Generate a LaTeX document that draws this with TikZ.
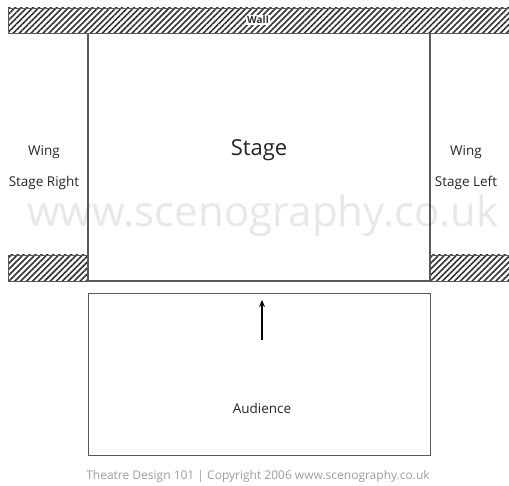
\documentclass[tikz,border=0pt]{standalone}
\usepackage{fontspec}
\setmainfont{Open Sans}
\usetikzlibrary{patterns.meta,arrows.meta}
\definecolor{linec}{gray}{0.35}
\definecolor{hatchc}{gray}{0.2}
\definecolor{wmark}{gray}{0.91}
\definecolor{copyc}{gray}{0.62}
\tikzset{
  hatch/.style={draw=linec, line width=0.8pt, pattern={Lines[angle=45,distance=4.2pt,line width=1.6pt]}, pattern color=hatchc},
  wallline/.style={draw=linec, line width=1.2pt},
  lbl/.style={font=\fontsize{13.5}{15}\selectfont, text=black!85, inner sep=0pt}
}
\begin{document}
\begin{tikzpicture}[x=1pt,y=-1pt]
\useasboundingbox[fill=white] (0,0) rectangle (509,486);
% watermark
\node[text=wmark, font=\fontsize{42}{46}\selectfont, inner sep=0pt] (wm) at (263,216) {www.scenography.co.uk};
% top wall
\path[hatch] (8,8) rectangle (509,33);
\node[fill=white, inner sep=1.5pt, font=\fontsize{10}{11}\selectfont\bfseries, text=black!80] (walllbl) at (258,20) {Wall};
% side wall stubs
\path[hatch] (8,255) rectangle (88,281);
\path[hatch] (430,255) rectangle (509,281);
% stage outline
\coordinate (tl) at (88,33);
\coordinate (tr) at (430,33);
\coordinate (bl) at (88,281);
\coordinate (br) at (430,281);
\draw[wallline] (tl) -- (bl) -- (br) -- (tr);
% audience box
\node[draw=linec, line width=1pt, minimum width=342pt, minimum height=162pt, inner sep=0pt, anchor=north west] (aud) at (88,293) {};
\coordinate (arrs) at (262,340);
\coordinate (arre) at (262,300);
\draw[line width=1.2pt, -{Stealth[length=7pt,width=6pt]}] (arrs) -- (arre);
% labels
\node[font=\fontsize{22}{25}\selectfont, text=black!85] (stage) at (259,150) {Stage};
\node[lbl] (wr1) at (44,152) {Wing};
\node[lbl] (wr2) at (44,183) {Stage Right};
\node[lbl] (wl1) at (466,152) {Wing};
\node[lbl] (wl2) at (466,183) {Stage Left};
\node[lbl] (audl) at (262,408) {Audience};
\node[text=copyc, font=\fontsize{12}{13}\selectfont, inner sep=0pt] (copy) at (258,476) {Theatre Design 101 | Copyright 2006 www.scenography.co.uk};
\end{tikzpicture}
\end{document}
